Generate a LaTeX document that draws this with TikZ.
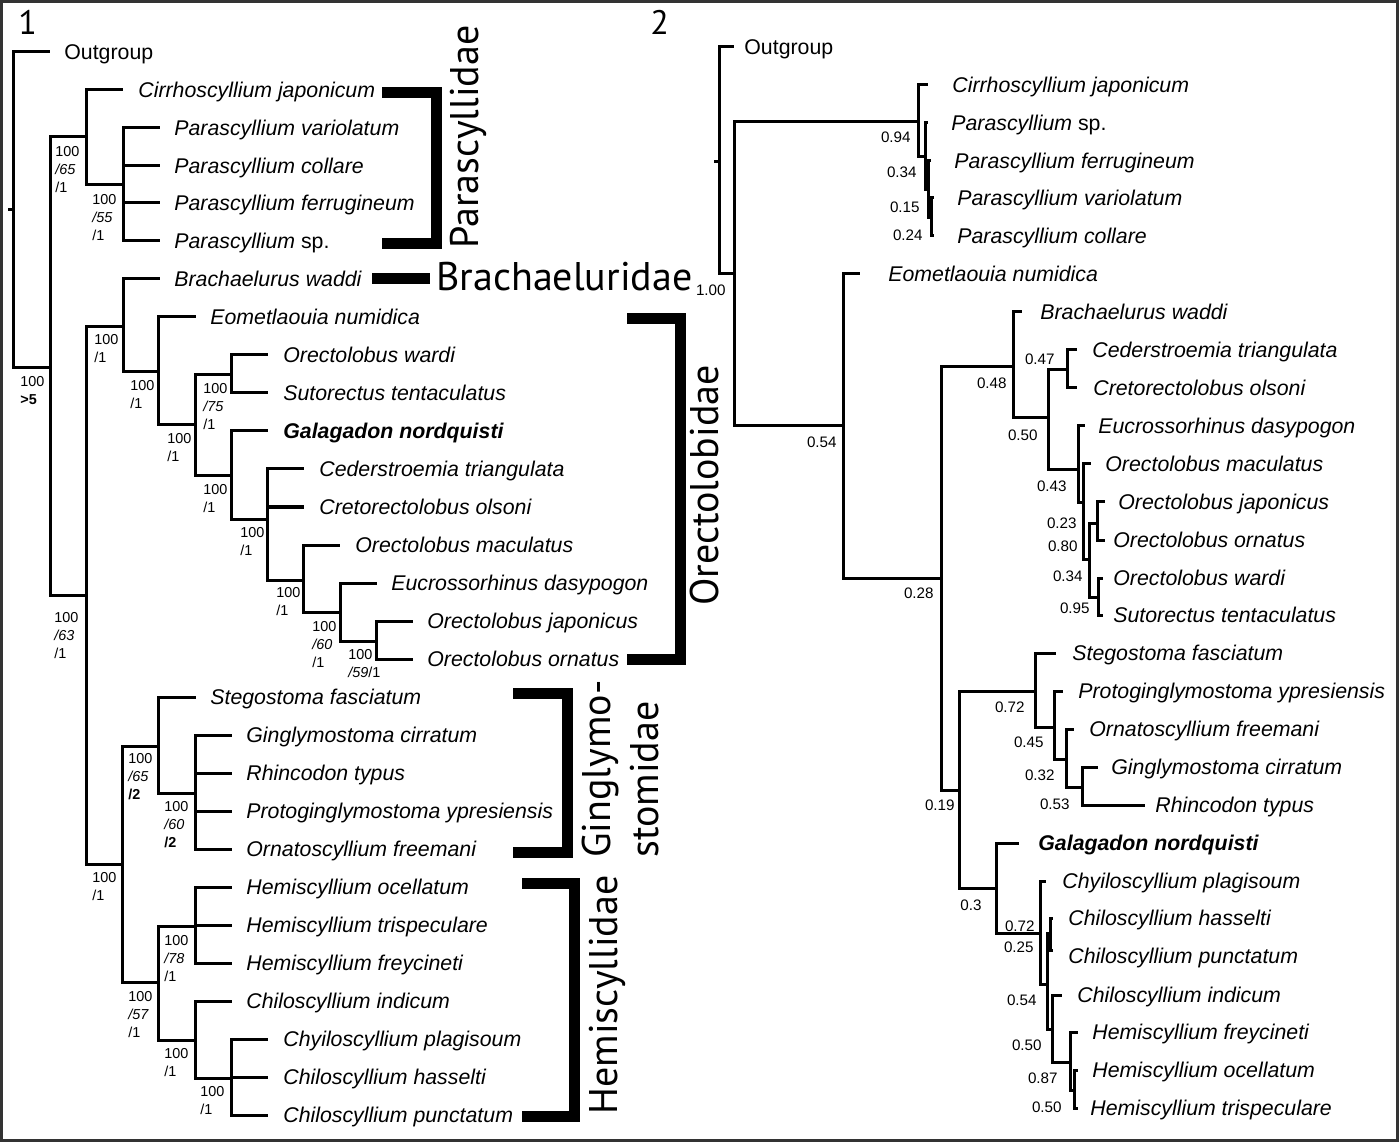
\documentclass[tikz,border=0pt]{standalone}
\usepackage{fontspec}
\setmainfont{Liberation Sans}
\newfontfamily\famfont{PT Sans}

\tikzset{
  branch/.style={line width=1.5pt},
  bracket/.style={line width=5.5pt, line join=miter},
  taxon/.style={anchor=west, inner sep=0pt, font=\fontsize{10.65}{12}\selectfont\itshape, text height=7.6pt, text depth=0pt},
  supp/.style={anchor=north west, inner sep=0pt, align=left, font=\fontsize{7.2}{8.8}\selectfont},
  post/.style={anchor=east, inner sep=0pt, font=\fontsize{7.6}{9}\selectfont, text height=5.4pt, text depth=0pt},
  family/.style={anchor=west, inner sep=0pt, font=\famfont\fontsize{20}{24}\selectfont, text height=14pt, text depth=0pt},
  panel/.style={anchor=north west, inner sep=0pt, font=\famfont\fontsize{17}{20}\selectfont},
}

\begin{document}
\begin{tikzpicture}[x=0.5pt,y=-0.5pt]
\useasboundingbox (0,0) rectangle (1400,1143);
\draw[line width=1.5pt, black!80] (1.5,1.5) rectangle (1397.5,1140.5);

\node[panel] (p1) at (18,10) {1};
\node[panel] (p2) at (650,10) {2};

% panel 1: internal nodes
\coordinate (ltick) at (8,210);
\coordinate (lroot) at (13,210);
\coordinate (lA) at (50,368);
\coordinate (lPa) at (86,137);
\coordinate (lPb) at (123,185);
\coordinate (lB) at (86,595);
\coordinate (lC) at (123,327);
\coordinate (lD) at (158,372);
\coordinate (lE) at (195,425);
\coordinate (lF) at (231,375);
\coordinate (lH) at (231,476);
\coordinate (lI) at (267,519);
\coordinate (lJ) at (303,580);
\coordinate (lK) at (340,612);
\coordinate (lL) at (376,641);
\coordinate (lG) at (122,864);
\coordinate (lM) at (158,746);
\coordinate (lO) at (195,793);
\coordinate (lN) at (158,982);
\coordinate (lP) at (195,926);
\coordinate (lQ) at (195,1040);
\coordinate (lR) at (231,1078);

% panel 1: tips
\coordinate (lt1) at (50,52);
\coordinate (lt2) at (123,90);
\coordinate (lt3) at (160,128);
\coordinate (lt4) at (160,166);
\coordinate (lt5) at (160,203);
\coordinate (lt6) at (160,241);
\coordinate (lt7) at (160,279);
\coordinate (lt8) at (196,317);
\coordinate (lt9) at (268,355);
\coordinate (lt10) at (268,393);
\coordinate (lt11) at (268,431);
\coordinate (lt12) at (304,469);
\coordinate (lt13) at (304,507);
\coordinate (lt14) at (340,545);
\coordinate (lt15) at (377,583);
\coordinate (lt16) at (413,621);
\coordinate (lt17) at (413,659);
\coordinate (lt18) at (196,697);
\coordinate (lt19) at (232,735);
\coordinate (lt20) at (232,773);
\coordinate (lt21) at (232,811);
\coordinate (lt22) at (232,849);
\coordinate (lt23) at (232,887);
\coordinate (lt24) at (232,925);
\coordinate (lt25) at (232,963);
\coordinate (lt26) at (232,1001);
\coordinate (lt27) at (268,1039);
\coordinate (lt28) at (268,1077);
\coordinate (lt29) at (268,1115);

\draw[branch] (ltick) -- (lroot);
\draw[branch] (lroot) |- (lt1) (lroot) |- (lA);
\draw[branch] (lA) |- (lPa) (lA) |- (lB);
\draw[branch] (lPa) |- (lt2) (lPa) |- (lPb);
\draw[branch] (lPb) |- (lt3) (lPb) |- (lt4) (lPb) |- (lt5) (lPb) |- (lt6);
\draw[branch] (lB) |- (lC) (lB) |- (lG);
\draw[branch] (lC) |- (lt7) (lC) |- (lD);
\draw[branch] (lD) |- (lt8) (lD) |- (lE);
\draw[branch] (lE) |- (lF) (lE) |- (lH);
\draw[branch] (lF) |- (lt9) (lF) |- (lt10);
\draw[branch] (lH) |- (lt11) (lH) |- (lI);
\draw[branch] (lI) |- (lt12) (lI) |- (lt13) (lI) |- (lJ);
\draw[branch] (lJ) |- (lt14) (lJ) |- (lK);
\draw[branch] (lK) |- (lt15) (lK) |- (lL);
\draw[branch] (lL) |- (lt16) (lL) |- (lt17);
\draw[branch] (lG) |- (lM) (lG) |- (lN);
\draw[branch] (lM) |- (lt18) (lM) |- (lO);
\draw[branch] (lO) |- (lt19) (lO) |- (lt20) (lO) |- (lt21) (lO) |- (lt22);
\draw[branch] (lN) |- (lP) (lN) |- (lQ);
\draw[branch] (lP) |- (lt23) (lP) |- (lt24) (lP) |- (lt25);
\draw[branch] (lQ) |- (lt26) (lQ) |- (lR);
\draw[branch] (lR) |- (lt27) (lR) |- (lt28) (lR) |- (lt29);

\node[taxon] (ln1) at (64,52) {\upshape Outgroup};
\node[taxon] (ln2) at (138,90) {Cirrhoscyllium japonicum};
\node[taxon] (ln3) at (174,128) {Parascyllium variolatum};
\node[taxon] (ln4) at (174,166) {Parascyllium collare};
\node[taxon] (ln5) at (174,203) {Parascyllium ferrugineum};
\node[taxon] (ln6) at (174,241) {Parascyllium \textup{sp.}};
\node[taxon] (ln7) at (174,279) {Brachaelurus waddi};
\node[taxon] (ln8) at (210,317) {Eometlaouia numidica};
\node[taxon] (ln9) at (283,355) {Orectolobus wardi};
\node[taxon] (ln10) at (283,393) {Sutorectus tentaculatus};
\node[taxon] (ln11) at (283,431) {\bfseries Galagadon nordquisti};
\node[taxon] (ln12) at (319,469) {Cederstroemia triangulata};
\node[taxon] (ln13) at (319,507) {Cretorectolobus olsoni};
\node[taxon] (ln14) at (355,545) {Orectolobus maculatus};
\node[taxon] (ln15) at (391,583) {Eucrossorhinus dasypogon};
\node[taxon] (ln16) at (427,621) {Orectolobus japonicus};
\node[taxon] (ln17) at (427,659) {Orectolobus ornatus};
\node[taxon] (ln18) at (210,697) {Stegostoma fasciatum};
\node[taxon] (ln19) at (246,735) {Ginglymostoma cirratum};
\node[taxon] (ln20) at (246,773) {Rhincodon typus};
\node[taxon] (ln21) at (246,811) {Protoginglymostoma ypresiensis};
\node[taxon] (ln22) at (246,849) {Ornatoscyllium freemani};
\node[taxon] (ln23) at (246,887) {Hemiscyllium ocellatum};
\node[taxon] (ln24) at (246,925) {Hemiscyllium trispeculare};
\node[taxon] (ln25) at (246,963) {Hemiscyllium freycineti};
\node[taxon] (ln26) at (246,1001) {Chiloscyllium indicum};
\node[taxon] (ln27) at (283,1039) {Chyiloscyllium plagisoum};
\node[taxon] (ln28) at (283,1077) {Chiloscyllium hasselti};
\node[taxon] (ln29) at (283,1115) {Chiloscyllium punctatum};

% panel 1: support values
\node[supp] (sroot) at (20,376.5) {100\\\textbf{>5}};
\node[supp] (sPa) at (55,146.5) {100\\\textit{/65}\\/1};
\node[supp] (sPb) at (92,194.5) {100\\\textit{/55}\\/1};
\node[supp] (sC) at (94,334.5) {100\\/1};
\node[supp] (sD) at (130,380.5) {100\\/1};
\node[supp] (sF) at (203,383.5) {100\\\textit{/75}\\/1};
\node[supp] (sE) at (167,433.5) {100\\/1};
\node[supp] (sH) at (203,484.5) {100\\/1};
\node[supp] (sI) at (240,527.5) {100\\/1};
\node[supp] (sJ) at (276,587.5) {100\\/1};
\node[supp] (sK) at (312,621.5) {100\\\textit{/60}\\/1};
\node[supp] (sL) at (348,649.5) {100\\\textit{/59}/1};
\node[supp] (sB) at (54,612.5) {100\\\textit{/63}\\/1};
\node[supp] (sM) at (128,753.5) {100\\\textit{/65}\\\textbf{/2}};
\node[supp] (sO) at (164,801.5) {100\\\textit{/60}\\\textbf{/2}};
\node[supp] (sG) at (92,872.5) {100\\/1};
\node[supp] (sP) at (164,935.5) {100\\\textit{/78}\\/1};
\node[supp] (sN) at (128,991.5) {100\\\textit{/57}\\/1};
\node[supp] (sQ) at (164,1048.5) {100\\/1};
\node[supp] (sR) at (200,1086.5) {100\\/1};

% families
\draw[bracket] (382,92.5) -| (436.5,243.5) -- (382,243.5);
\draw[bracket] (372,279) -- (430,279);
\draw[bracket] (627,318.5) -| (680.5,659.5) -- (627,659.5);
\draw[bracket] (513,693.5) -| (567,852.5) -- (513,852.5);
\draw[bracket] (522,883.5) -| (574.5,1116) -- (522,1116);
\node[family, rotate=90] (fPara) at (464,249) {Parascyllidae};
\node[family] (fBrach) at (436,277) {Brachaeluridae};
\node[family, rotate=90] (fOrect) at (704,606) {Orectolobidae};
\node[family, rotate=90] (fGing) at (596,858) {Ginglymo-};
\node[family, rotate=90] (fStom) at (644,858) {stomidae};
\node[family, rotate=90] (fHemi) at (603,1115) {Hemiscyllidae};

% panel 2: internal nodes
\coordinate (rtick) at (714,162);
\coordinate (rroot) at (719,162);
\coordinate (rA) at (734,274);
\coordinate (rPa) at (918,122);
\coordinate (rPb) at (925,157);
\coordinate (rPc) at (928,190);
\coordinate (rPd) at (931,218);
\coordinate (rB) at (843,426);
\coordinate (rC) at (941,578);
\coordinate (rD) at (1013,367);
\coordinate (rE) at (1048,418);
\coordinate (rF) at (1067,370);
\coordinate (rG) at (1078,470);
\coordinate (rH) at (1083,503);
\coordinate (rI) at (1089,559);
\coordinate (rJ) at (1097,523);
\coordinate (rK) at (1098,597);
\coordinate (rL) at (959,790);
\coordinate (rM) at (1035,691);
\coordinate (rN) at (1054,727);
\coordinate (rO) at (1066,759);
\coordinate (rP) at (1082,787);
\coordinate (rQ) at (996,888);
\coordinate (rR) at (1040,933);
\coordinate (rS) at (1047,984);
\coordinate (rT) at (1050,933);
\coordinate (rU) at (1052,1029);
\coordinate (rV) at (1070,1062);
\coordinate (rW) at (1074,1090);

% panel 2: tips
\coordinate (rt1) at (734,47);
\coordinate (rt2) at (928,85);
\coordinate (rt3) at (928,123);
\coordinate (rt4) at (931,161);
\coordinate (rt5) at (934,198);
\coordinate (rt6) at (934,236);
\coordinate (rt7) at (860,274);
\coordinate (rt8) at (1022,312);
\coordinate (rt9) at (1077,350);
\coordinate (rt10) at (1077,388);
\coordinate (rt11) at (1085,426);
\coordinate (rt12) at (1091,464);
\coordinate (rt13) at (1105,502);
\coordinate (rt14) at (1105,540);
\coordinate (rt15) at (1103,578);
\coordinate (rt16) at (1103,615);
\coordinate (rt17) at (1056,653);
\coordinate (rt18) at (1063,691);
\coordinate (rt19) at (1074,729);
\coordinate (rt20) at (1098,767);
\coordinate (rt21) at (1145,805);
\coordinate (rt22) at (1019,843);
\coordinate (rt23) at (1046,881);
\coordinate (rt24) at (1053,918);
\coordinate (rt25) at (1053,950);
\coordinate (rt26) at (1062,995);
\coordinate (rt27) at (1078,1032);
\coordinate (rt28) at (1078,1070);
\coordinate (rt29) at (1078,1108);

\draw[branch] (rtick) -- (rroot);
\draw[branch] (rroot) |- (rt1) (rroot) |- (rA);
\draw[branch] (rA) |- (rPa) (rA) |- (rB);
\draw[branch] (rPa) |- (rt2) (rPa) |- (rPb);
\draw[branch] (rPb) |- (rt3) (rPb) |- (rPc);
\draw[branch] (rPc) |- (rt4) (rPc) |- (rPd);
\draw[branch] (rPd) |- (rt5) (rPd) |- (rt6);
\draw[branch] (rB) |- (rt7) (rB) |- (rC);
\draw[branch] (rC) |- (rD) (rC) |- (rL);
\draw[branch] (rD) |- (rt8) (rD) |- (rE);
\draw[branch] (rE) |- (rF) (rE) |- (rG);
\draw[branch] (rF) |- (rt9) (rF) |- (rt10);
\draw[branch] (rG) |- (rt11) (rG) |- (rH);
\draw[branch] (rH) |- (rt12) (rH) |- (rI);
\draw[branch] (rI) |- (rJ) (rI) |- (rK);
\draw[branch] (rJ) |- (rt13) (rJ) |- (rt14);
\draw[branch] (rK) |- (rt15) (rK) |- (rt16);
\draw[branch] (rL) |- (rM) (rL) |- (rQ);
\draw[branch] (rM) |- (rt17) (rM) |- (rN);
\draw[branch] (rN) |- (rt18) (rN) |- (rO);
\draw[branch] (rO) |- (rt19) (rO) |- (rP);
\draw[branch] (rP) |- (rt20) (rP) |- (rt21);
\draw[branch] (rQ) |- (rt22) (rQ) |- (rR);
\draw[branch] (rR) |- (rt23) (rR) |- (rS);
\draw[branch] (rS) |- (rT) (rS) |- (rU);
\draw[branch] (rT) |- (rt24) (rT) |- (rt25);
\draw[branch] (rU) |- (rt26) (rU) |- (rV);
\draw[branch] (rV) |- (rt27) (rV) |- (rW);
\draw[branch] (rW) |- (rt28) (rW) |- (rt29);

\node[taxon] (rn1) at (744,47) {\upshape Outgroup};
\node[taxon] (rn2) at (952,85) {Cirrhoscyllium japonicum};
\node[taxon] (rn3) at (951,123) {Parascyllium \textup{sp.}};
\node[taxon] (rn4) at (954,161) {Parascyllium ferrugineum};
\node[taxon] (rn5) at (957,198) {Parascyllium variolatum};
\node[taxon] (rn6) at (957,236) {Parascyllium collare};
\node[taxon] (rn7) at (888,274) {Eometlaouia numidica};
\node[taxon] (rn8) at (1040,312) {Brachaelurus waddi};
\node[taxon] (rn9) at (1092,350) {Cederstroemia triangulata};
\node[taxon] (rn10) at (1093,388) {Cretorectolobus olsoni};
\node[taxon] (rn11) at (1098,426) {Eucrossorhinus dasypogon};
\node[taxon] (rn12) at (1105,464) {Orectolobus maculatus};
\node[taxon] (rn13) at (1118,502) {Orectolobus japonicus};
\node[taxon] (rn14) at (1113,540) {Orectolobus ornatus};
\node[taxon] (rn15) at (1113,578) {Orectolobus wardi};
\node[taxon] (rn16) at (1113,615) {Sutorectus tentaculatus};
\node[taxon] (rn17) at (1072,653) {Stegostoma fasciatum};
\node[taxon] (rn18) at (1078,691) {Protoginglymostoma ypresiensis};
\node[taxon] (rn19) at (1089,729) {Ornatoscyllium freemani};
\node[taxon] (rn20) at (1111,767) {Ginglymostoma cirratum};
\node[taxon] (rn21) at (1155,805) {Rhincodon typus};
\node[taxon] (rn22) at (1038,843) {\bfseries Galagadon nordquisti};
\node[taxon] (rn23) at (1062,881) {Chyiloscyllium plagisoum};
\node[taxon] (rn24) at (1068,918) {Chiloscyllium hasselti};
\node[taxon] (rn25) at (1068,956) {Chiloscyllium punctatum};
\node[taxon] (rn26) at (1077,995) {Chiloscyllium indicum};
\node[taxon] (rn27) at (1092,1032) {Hemiscyllium freycineti};
\node[taxon] (rn28) at (1092,1070) {Hemiscyllium ocellatum};
\node[taxon] (rn29) at (1090,1108) {Hemiscyllium trispeculare};

% panel 2: posterior probabilities
\node[post] (qPa) at (911,137) {0.94};
\node[post] (qPb) at (917,172) {0.34};
\node[post] (qPc) at (920,207) {0.15};
\node[post] (qPd) at (923,235) {0.24};
\node[post] (qA) at (726,290) {1.00};
\node[post] (qB) at (837,442) {0.54};
\node[post] (qF) at (1055,359) {0.47};
\node[post] (qD) at (1007,383) {0.48};
\node[post] (qE) at (1038,435) {0.50};
\node[post] (qG) at (1067,486) {0.43};
\node[post] (qH) at (1077,523) {0.23};
\node[post] (qI) at (1078,546) {0.80};
\node[post] (qJ) at (1083,576) {0.34};
\node[post] (qK) at (1090,608) {0.95};
\node[post] (qC) at (934,593) {0.28};
\node[post] (qM) at (1025,707) {0.72};
\node[post] (qN) at (1044,742) {0.45};
\node[post] (qO) at (1055,775) {0.32};
\node[post] (qP) at (1070,804) {0.53};
\node[post] (qL) at (955,805) {0.19};
\node[post] (qQ) at (982,905) {0.3};
\node[post] (qR) at (1035,926) {0.72};
\node[post] (qT) at (1034,947) {0.25};
\node[post] (qS) at (1037,1000) {0.54};
\node[post] (qU) at (1042,1045) {0.50};
\node[post] (qV) at (1058,1078) {0.87};
\node[post] (qW) at (1062,1107) {0.50};
\end{tikzpicture}
\end{document}
